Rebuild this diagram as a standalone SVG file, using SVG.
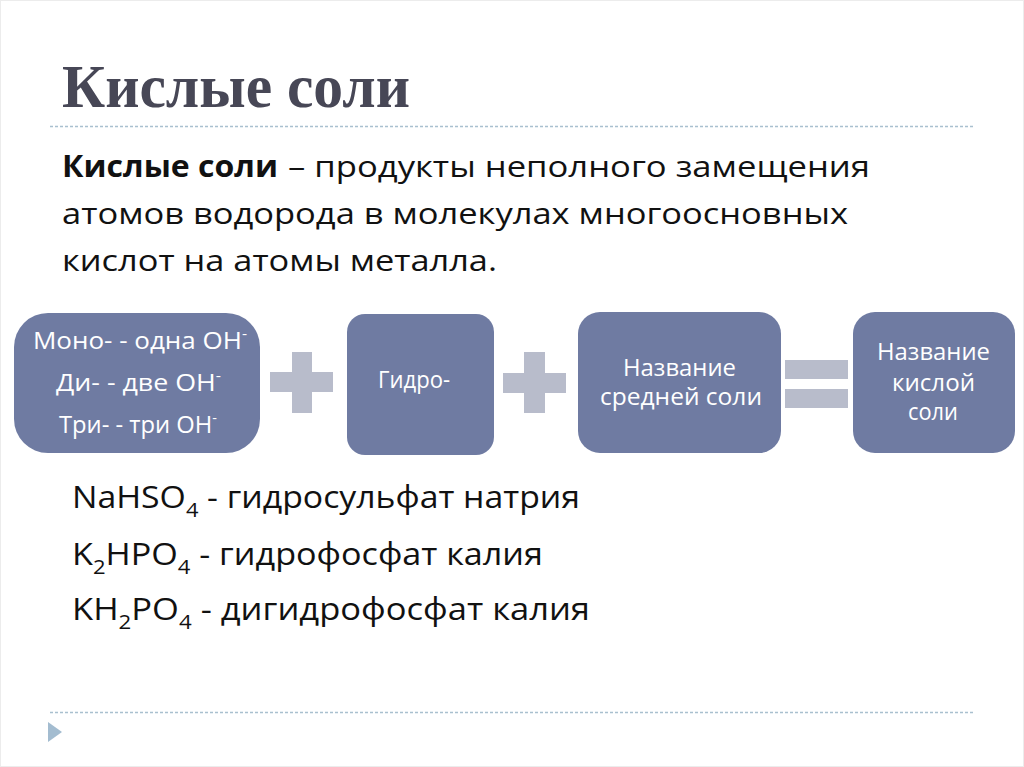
<svg xmlns="http://www.w3.org/2000/svg" width="1024" height="767" viewBox="0 0 1024 767">
<style>
.title{font-family:"Liberation Serif",serif;font-weight:bold;font-size:62px;fill:#474756}
.body{font-family:"Open Sans","Liberation Sans",sans-serif;font-size:30px;fill:#111}
.bold{font-weight:bold}
.box{fill:#6f7ba2}
.bt{font-family:"Open Sans","Liberation Sans",sans-serif;font-size:23px;fill:#fff}
.op{fill:#b8bccb}
.rule{stroke:#a9c0cf;stroke-width:1.5;stroke-dasharray:3 2;fill:none}
.f{font-family:"Open Sans","Liberation Sans",sans-serif;font-size:31px;fill:#111}
</style>
<rect x="0.5" y="0.5" width="1023" height="766" fill="#fff" stroke="#ececec"/>
<g id="header">
<text class="title" x="62" y="107" textLength="348" lengthAdjust="spacingAndGlyphs">Кислые соли</text>
<line class="rule" x1="50" y1="126.5" x2="975" y2="126.5"/>
</g>
<g id="definition">
<text class="body bold" x="62" y="177" textLength="216" lengthAdjust="spacingAndGlyphs">Кислые соли</text>
<text class="body" x="288" y="177" textLength="582" lengthAdjust="spacingAndGlyphs">– продукты неполного замещения</text>
<text class="body" x="62" y="224" textLength="786" lengthAdjust="spacingAndGlyphs">атомов водорода в молекулах многоосновных</text>
<text class="body" x="62" y="271" textLength="435" lengthAdjust="spacingAndGlyphs">кислот на атомы металла.</text>
</g>
<g id="node-prefixes">
<rect class="box" x="14" y="313" width="246" height="140" rx="34" ry="34"/>
<text class="bt" x="33" y="349" textLength="214" lengthAdjust="spacingAndGlyphs">Моно- - одна ОН<tspan font-size="14" dy="-10">-</tspan></text>
<text class="bt" x="56" y="391" textLength="165" lengthAdjust="spacingAndGlyphs">Ди- - две ОН<tspan font-size="14" dy="-10">-</tspan></text>
<text class="bt" x="59" y="433" textLength="158" lengthAdjust="spacingAndGlyphs">Три- - три ОН<tspan font-size="14" dy="-10">-</tspan></text>
</g>
<g id="node-gidro">
<rect class="box" x="347" y="314" width="147" height="141" rx="18" ry="18"/>
<text class="bt" x="378" y="388" textLength="72" lengthAdjust="spacingAndGlyphs">Гидро-</text>
</g>
<g id="node-middle-salt">
<rect class="box" x="578" y="312" width="203" height="141" rx="22" ry="22"/>
<text class="bt" x="623" y="376" textLength="113" lengthAdjust="spacingAndGlyphs">Название</text>
<text class="bt" x="600" y="405" textLength="162" lengthAdjust="spacingAndGlyphs">средней соли</text>
</g>
<g id="node-acid-salt">
<rect class="box" x="853" y="312" width="162" height="141" rx="22" ry="22"/>
<text class="bt" x="877" y="360" textLength="113" lengthAdjust="spacingAndGlyphs">Название</text>
<text class="bt" x="892" y="391" textLength="83" lengthAdjust="spacingAndGlyphs">кислой</text>
<text class="bt" x="908" y="420" textLength="50" lengthAdjust="spacingAndGlyphs">соли</text>
</g>
<g id="operators">
<path class="op" d="M292 352h20v20h21v20h-21v21h-20v-21h-22v-20h22z"/>
<path class="op" d="M524 352h21v21h21v20h-21v20h-21v-20h-21v-20h21z"/>
<rect class="op" x="785" y="360" width="63" height="19"/>
<rect class="op" x="785" y="389" width="63" height="19"/>
</g>
<g id="examples">
<text class="f" x="72" y="508" textLength="508" lengthAdjust="spacingAndGlyphs">NaHSO<tspan font-size="20" dy="9">4</tspan><tspan dy="-9"> - гидросульфат натрия</tspan></text>
<text class="f" x="72" y="565" textLength="471" lengthAdjust="spacingAndGlyphs">K<tspan font-size="20" dy="9">2</tspan><tspan dy="-9">HPO</tspan><tspan font-size="20" dy="9">4</tspan><tspan dy="-9"> - гидрофосфат калия</tspan></text>
<text class="f" x="72" y="620" textLength="518" lengthAdjust="spacingAndGlyphs">KH<tspan font-size="20" dy="9">2</tspan><tspan dy="-9">PO</tspan><tspan font-size="20" dy="9">4</tspan><tspan dy="-9"> - дигидрофосфат калия</tspan></text>
</g>
<g id="footer">
<line class="rule" x1="50" y1="712.5" x2="975" y2="712.5"/>
<polygon points="48,722 62,732 48,742" fill="#a3bcd0"/>
</g>
</svg>
